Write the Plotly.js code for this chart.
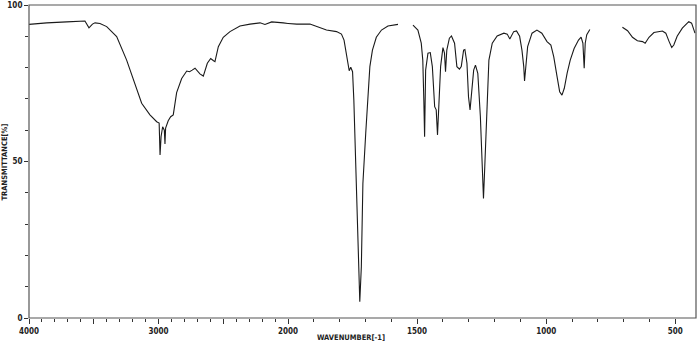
<!DOCTYPE html>
<html>
<head>
<meta charset="utf-8">
<script src="https://cdn.plot.ly/plotly-3.0.1.min.js"></script>
<style>
  html, body { margin: 0; padding: 0; background: #ffffff; }
  #chart { width: 700px; height: 354px; }
</style>
</head>
<body>
<div id="chart"></div>
<script>
// Wavenumber (cm-1) and transmittance (%).
// High-wavenumber part (4000 -> 2000, compressed scale)
const wnHigh = [4000, 3863, 3709, 3593, 3568, 3537, 3510, 3490, 3452, 3400, 3323, 3246, 3181, 3130, 3066,
  3014, 2995, 2988, 2980, 2968, 2955, 2950, 2945, 2925, 2906, 2886, 2860, 2821, 2782, 2760, 2740, 2718,
  2680, 2654, 2623, 2597, 2575, 2564, 2538, 2500, 2448, 2371, 2293, 2216, 2178, 2126, 2036, 2000];
const tHigh = [93.8, 94.3, 94.6, 95.0, 94.9, 92.7, 93.9, 94.3, 94.1, 93.1, 89.9, 82.4, 74.9, 68.6, 64.9,
  62.7, 62.3, 52.1, 58.0, 61.1, 60.0, 55.6, 60.7, 63.0, 64.3, 64.9, 72.0, 76.5, 78.9, 78.7, 79.2, 79.8,
  78.0, 77.3, 81.4, 82.9, 82.2, 81.9, 86.7, 89.7, 91.5, 93.3, 93.9, 94.3, 93.8, 94.6, 94.3, 94.1];

// Low-wavenumber part (2000 -> 420, expanded scale); null = gap in the recorded trace
const wnLow = [2000, 1966, 1915, 1870, 1851, 1812, 1793, 1783, 1776, 1767, 1763, 1757, 1750, 1745, 1739,
  1732, 1727, 1722, 1716, 1710, 1699, 1690, 1683, 1673, 1658, 1638, 1613, 1574, 1545,
  1516, 1497, 1484, 1478, 1474, 1471, 1467, 1458, 1449, 1441, 1432, 1426, 1421, 1416, 1409, 1400,
  1394, 1390, 1385, 1375, 1367, 1355, 1346, 1336, 1329, 1320, 1315, 1307, 1301, 1295, 1290, 1281,
  1274, 1265, 1255, 1248, 1243, 1238, 1231, 1222, 1209, 1190, 1164, 1151, 1141, 1126, 1115, 1103,
  1094, 1087, 1084, 1078, 1072, 1055, 1036, 1017, 997, 982, 971, 958, 948, 939, 930, 919, 907, 892,
  875, 865, 858, 853, 849, 843, 837, 831, 770,
  705, 685, 666, 647, 627, 617, 602, 583, 550, 537, 524, 514, 506, 493, 473, 448, 437, 424];
const tLow = [94.1, 93.9, 93.9, 92.7, 92.0, 91.5, 90.7, 88.8, 85.6, 80.3, 79.0, 80.1, 78.7, 69.6, 53.7,
  37.7, 21.7, 5.2, 16.4, 43.0, 59.0, 71.8, 80.3, 85.6, 89.7, 92.0, 93.3, 93.8, null,
  93.6, 92.0, 87.8, 82.4, 69.6, 57.9, 79.2, 84.6, 84.8, 80.3, 67.5, 66.5, 58.5, 66.5, 80.3, 86.4,
  84.6, 78.7, 85.6, 89.4, 90.1, 87.8, 80.3, 79.5, 80.3, 85.6, 85.8, 81.4, 70.7, 66.5, 71.8, 79.2,
  80.8, 78.2, 64.3, 48.3, 38.2, 48.3, 66.5, 82.4, 87.8, 90.1, 91.0, 90.7, 89.1, 91.5, 91.7, 90.0,
  85.6, 80.3, 75.7, 80.3, 86.7, 91.0, 92.0, 91.0, 88.3, 87.2, 83.5, 77.1, 72.3, 71.2, 73.4, 78.2, 82.4, 86.1,
  88.8, 89.7, 87.8, 79.8, 87.8, 90.5, 91.5, 92.2, null,
  92.9, 91.8, 89.7, 88.6, 88.3, 87.8, 89.7, 91.2, 91.7, 91.0, 88.3, 86.4, 87.2, 90.0, 92.6, 94.7, 94.2, 91.0];

const xTickValsHigh = [4000, 3500, 3000, 2500, 2000];
const xTickTextHigh = ['4000', '', '3000', '', '2000'];
const xTickValsLow = [1500, 1000, 500];
const xTickTextLow = ['1500', '1000', '500'];
const yTickVals = [0, 50, 100];
const yTickText = ['0', '50', '100'];

const lineStyle = { color: '#1a1a1a', width: 1.1 };
const tickFont = { family: 'DejaVu Sans Condensed, DejaVu Sans, sans-serif', size: 8, color: '#222', weight: 'bold' };
const titleFont = { family: 'DejaVu Sans Condensed, DejaVu Sans, sans-serif', size: 7.5, color: '#222', weight: 'bold' };

const traces = [
  { x: wnHigh, y: tHigh, xaxis: 'x', yaxis: 'y', type: 'scatter', mode: 'lines',
    line: lineStyle, connectgaps: false, hoverinfo: 'skip' },
  { x: wnLow, y: tLow, xaxis: 'x2', yaxis: 'y', type: 'scatter', mode: 'lines',
    line: lineStyle, connectgaps: false, hoverinfo: 'skip' }
];

const split = 259 / 667;

const commonX = {
  ticks: 'outside', ticklen: 5, tickwidth: 1, tickcolor: '#333',
  showgrid: false, zeroline: false, showline: false,
  tickfont: tickFont, fixedrange: true,
  minor: { tickmode: 'linear', tick0: 0, dtick: 100, ticks: 'outside', ticklen: 3, tickcolor: '#333', tickwidth: 1, showgrid: false }
};

const layout = {
  width: 700, height: 354,
  margin: { l: 29, r: 4, t: 5, b: 36, pad: 0 },
  paper_bgcolor: '#ffffff', plot_bgcolor: '#ffffff',
  showlegend: false, hovermode: false,
  xaxis: Object.assign({}, commonX, {
    domain: [0, split], range: [4000, 2000], anchor: 'y',
    tickmode: 'array', tickvals: xTickValsHigh, ticktext: xTickTextHigh
  }),
  xaxis2: Object.assign({}, commonX, {
    domain: [split, 1], range: [2000, 420], anchor: 'y',
    tickmode: 'array', tickvals: xTickValsLow, ticktext: xTickTextLow
  }),
  yaxis: {
    range: [0, 100], domain: [0, 1], anchor: 'x',
    tickmode: 'array', tickvals: yTickVals, ticktext: yTickText,
    ticks: 'outside', ticklen: 4, tickwidth: 1, tickcolor: '#333',
    showgrid: false, zeroline: false, showline: false,
    tickfont: tickFont, fixedrange: true,
    minor: { tickmode: 'linear', tick0: 0, dtick: 10, ticks: 'outside', ticklen: 3, tickcolor: '#333', tickwidth: 1, showgrid: false }
  },
  shapes: [
    { type: 'rect', xref: 'paper', yref: 'paper', x0: 0, x1: 1, y0: 0, y1: 1,
      line: { color: '#555', width: 1.2 }, fillcolor: 'rgba(0,0,0,0)', layer: 'above' }
  ],
  annotations: [
    { text: 'WAVENUMBER[-1]', xref: 'paper', yref: 'paper', x: 0.483, y: -0.062,
      xanchor: 'center', yanchor: 'middle', showarrow: false, font: titleFont },
    { text: 'TRANSMITTANCE[%]', xref: 'paper', yref: 'paper', x: -0.036, y: 0.5,
      xanchor: 'center', yanchor: 'middle', textangle: -90, showarrow: false, font: titleFont }
  ]
};

Plotly.newPlot('chart', traces, layout, { displayModeBar: false, staticPlot: true });
</script>
</body>
</html>
